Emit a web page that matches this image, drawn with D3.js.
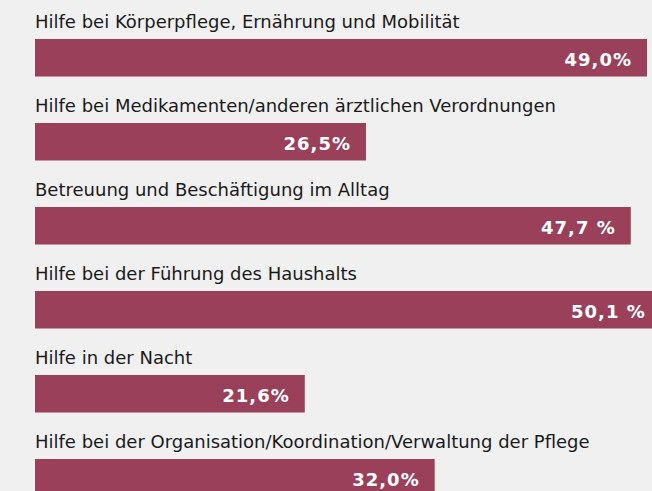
<!DOCTYPE html>
<html><head><meta charset="utf-8">
<script src="https://cdn.jsdelivr.net/npm/d3@7"></script>
<style>
html,body{margin:0;padding:0;background:#f0f0f0;}
svg{display:block;}
.cat{font-family:"DejaVu Sans",sans-serif;font-size:18px;fill:#1a1a1a;}
.val{font-family:"DejaVu Sans",sans-serif;font-weight:bold;font-size:18px;fill:#ffffff;letter-spacing:1px;}
</style></head>
<body>
<svg id="chart" width="652" height="491"></svg>
<script>
const categories = [
  "Hilfe bei Körperpflege, Ernährung und Mobilität",
  "Hilfe bei Medikamenten/anderen ärztlichen Verordnungen",
  "Betreuung und Beschäftigung im Alltag",
  "Hilfe bei der Führung des Haushalts",
  "Hilfe in der Nacht",
  "Hilfe bei der Organisation/Koordination/Verwaltung der Pflege"
];
const values = [49.0, 26.5, 47.7, 50.1, 21.6, 32.0];
const valueLabels = ["49,0%", "26,5%", "47,7 %", "50,1 %", "21,6%", "32,0%"];

const W = 652, H = 491;
const svg = d3.select("#chart");
svg.append("rect").attr("width", W).attr("height", H).attr("fill", "#f0f0f0");

const x = d3.scaleLinear().domain([0, 49.0]).range([35, 647]);
const band = d3.scaleBand().domain(d3.range(categories.length)).range([0, 504]).paddingInner(0).paddingOuter(0);
const barTop = i => band(i) + 39;
const barH = 37.5;

const g = svg.selectAll("g.row").data(categories).join("g").attr("class", "row");

g.append("rect")
  .attr("x", x(0))
  .attr("y", (d, i) => barTop(i))
  .attr("width", (d, i) => x(values[i]) - x(0))
  .attr("height", barH)
  .attr("fill", "#9a405a");

g.append("text")
  .attr("class", "cat")
  .attr("x", x(0))
  .attr("y", (d, i) => barTop(i) - 11)
  .text(d => d);

g.append("text")
  .attr("class", "val")
  .attr("x", (d, i) => x(values[i]) - 15)
  .attr("y", (d, i) => barTop(i) + 26.8)
  .attr("text-anchor", "end")
  .text((d, i) => valueLabels[i]);
</script>
</body></html>
